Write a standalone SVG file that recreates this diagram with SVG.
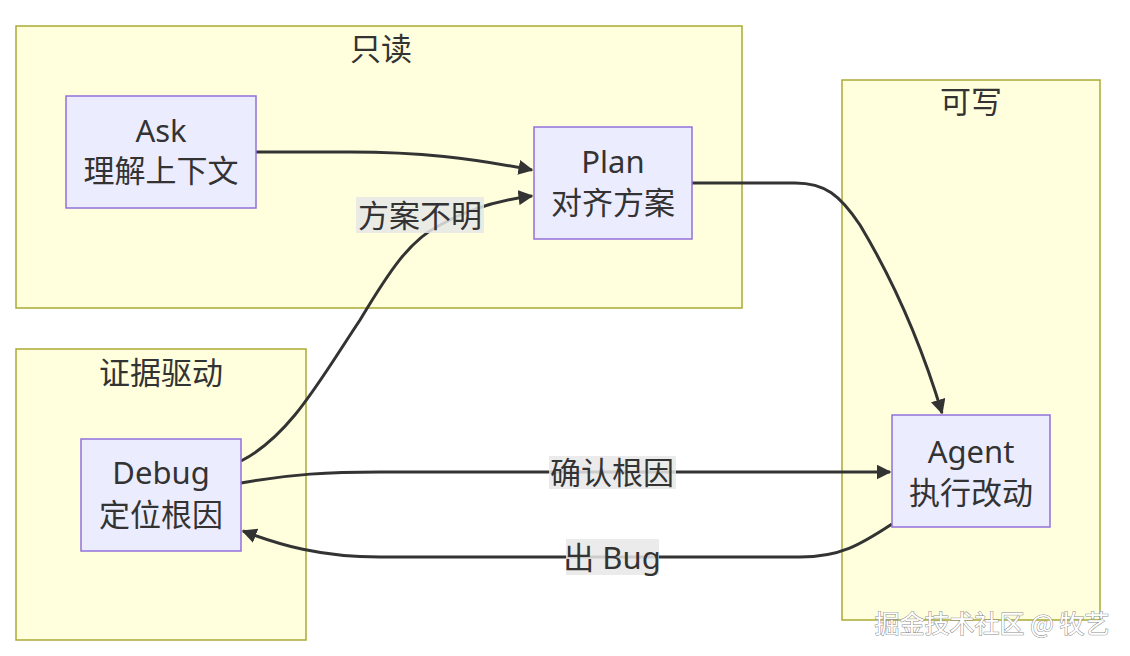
<svg xmlns="http://www.w3.org/2000/svg" width="1130" height="656" viewBox="0 0 1130 656">
<defs>
<style>
.cluster{fill:#ffffde;stroke:#aaaa33;stroke-width:1.5}
.node{fill:#ececff;stroke:#9370db;stroke-width:1.5}
.t{font-family:"Noto Sans","Noto Sans CJK SC",sans-serif;font-size:31px;fill:#333333;text-anchor:middle;dominant-baseline:central}
.edge{fill:none;stroke:#333333;stroke-width:3}
.lbl{fill:#e8e8e8;fill-opacity:0.85}
</style>
<marker id="arrow" viewBox="0 0 10 10" refX="9" refY="5" markerWidth="5" markerHeight="5" orient="auto" markerUnits="strokeWidth">
<path d="M0,0 L10,5 L0,10 z" fill="#333333"/>
</marker>
</defs>
<rect width="1130" height="656" fill="#ffffff"/>
<g id="cluster-readonly"><rect class="cluster" x="16" y="26" width="726" height="282"/><text class="t" x="381" y="48">只读</text></g>
<g id="cluster-evidence"><rect class="cluster" x="16" y="349" width="290" height="291"/><text class="t" x="161" y="372">证据驱动</text></g>
<g id="cluster-write"><rect class="cluster" x="842" y="80" width="258" height="540"/><text class="t" x="971" y="101">可写</text></g>
<g id="edges">
<path class="edge" d="M256,152 L350,152 C420,152 470,158 532,170" marker-end="url(#arrow)"/>
<path class="edge" d="M241,461 C290,436 320,380 360,320 C390,270 410,240 440,225 C470,208 500,200 532,196" marker-end="url(#arrow)"/>
<path class="edge" d="M692,183 L795,183 C825,183 840,195 860,225 C890,275 920,340 942,413" marker-end="url(#arrow)"/>
<path class="edge" d="M241,483 C290,474 330,472 380,472 L890,472" marker-end="url(#arrow)"/>
<path class="edge" d="M892,524 C860,545 840,557 800,557 L380,557 C320,557 280,545 243,531" marker-end="url(#arrow)"/>
<rect class="lbl" x="356" y="197" width="128" height="36"/><text class="t" x="420" y="215">方案不明</text>
<rect class="lbl" x="549" y="456" width="127" height="33"/><text class="t" x="612" y="472">确认根因</text>
<rect class="lbl" x="566" y="539" width="93" height="36"/><text class="t" x="612" y="557">出 Bug</text>
</g>
<g id="node-ask"><rect class="node" x="66" y="96" width="190" height="112"/><text class="t" x="161" y="130">Ask</text><text class="t" x="161" y="170">理解上下文</text></g>
<g id="node-plan"><rect class="node" x="534" y="127" width="158" height="112"/><text class="t" x="613" y="161">Plan</text><text class="t" x="613" y="202">对齐方案</text></g>
<g id="node-debug"><rect class="node" x="81" y="439" width="160" height="112"/><text class="t" x="161" y="472">Debug</text><text class="t" x="161" y="514">定位根因</text></g>
<g id="node-agent"><rect class="node" x="892" y="415" width="158" height="112"/><text class="t" x="971" y="451">Agent</text><text class="t" x="971" y="492">执行改动</text></g>
<text x="992" y="622" font-family="Noto Sans CJK SC, sans-serif" font-size="25" text-anchor="middle" dominant-baseline="central" fill="#ffffff" stroke="#8a8a8a" stroke-width="1" paint-order="stroke">掘金技术社区 @ 牧艺</text>
</svg>
